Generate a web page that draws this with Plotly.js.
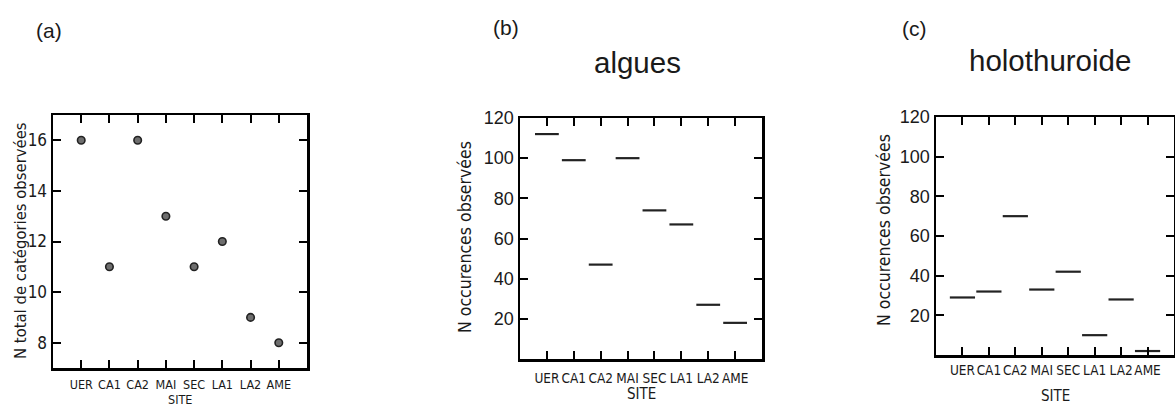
<!DOCTYPE html>
<html>
<head>
<meta charset="utf-8">
<script src="https://cdn.plot.ly/plotly-3.0.1.min.js"></script>
<style>html,body{margin:0;padding:0;background:#fff;}#chart{width:1175px;height:407px;}</style>
</head>
<body>
<div id="chart"></div>
<script>
// ---- data ----
const sites = ["UER", "CA1", "CA2", "MAI", "SEC", "LA1", "LA2", "AME"];
const totalCategories = [16, 11, 16, 13, 11, 12, 9, 8];
const alguesOcc = [112, 99, 47, 100, 74, 67, 27, 18];
const holoOcc = [29, 32, 70, 33, 42, 10, 28, 2];
const yTicksA = [8, 10, 12, 14, 16];
const yTicksBC = [20, 40, 60, 80, 100, 120];
const panelLabels = ["(a)", "(b)", "(c)"];
const panelTitles = ["algues", "holothuroide"];
const yTitleA = "N total de catégories observées";
const yTitleBC = "N occurences observées";
const xTitle = "SITE";

// ---- layout helpers ----
const W = 1175, H = 407;
const px = x => x / W;
const py = y => (H - y) / H;
const NARROW = '"DejaVu Sans Condensed", "Liberation Sans Narrow", "Liberation Sans", sans-serif';
const SANS = '"Liberation Sans", Arial, sans-serif';
const INK = '#1a1a1a';

function xaxis(l, r, fs, anchor, standoff) {
  return {
    domain: [px(l), px(r)], anchor: anchor, type: 'category', range: [-1, 8],
    showline: true, linecolor: '#000', linewidth: 2.5, mirror: 'ticks',
    ticks: 'inside', ticklen: 8, tickwidth: 2, tickcolor: '#000', tickangle: 0,
    ticklabelstandoff: standoff,
    showgrid: false, zeroline: false, fixedrange: true,
    tickfont: {family: NARROW, size: fs, color: INK}
  };
}
function yaxis(t, b, range, tv, font, anchor) {
  return {
    domain: [py(b), py(t)], anchor: anchor, range: range, tickvals: tv,
    showline: true, linecolor: '#000', linewidth: 2.5, mirror: 'ticks',
    ticks: 'inside', ticklen: 8, tickwidth: 2, tickcolor: '#000',
    showgrid: false, zeroline: false, fixedrange: true,
    tickfont: font
  };
}

const traces = [
  {x: sites, y: totalCategories, xaxis: 'x', yaxis: 'y', type: 'scatter', mode: 'markers',
   marker: {symbol: 'circle', size: 7.5, color: '#6e6e6e', line: {color: '#222', width: 1.6}}},
  {x: sites, y: alguesOcc, xaxis: 'x2', yaxis: 'y2', type: 'scatter', mode: 'markers',
   marker: {symbol: 'line-ew', size: 17, line: {color: '#222', width: 2.2}}},
  {x: sites, y: holoOcc, xaxis: 'x3', yaxis: 'y3', type: 'scatter', mode: 'markers',
   marker: {symbol: 'line-ew', size: 18, line: {color: '#222', width: 2.2}}}
];

function ann(text, x, y, size, family, angle) {
  return {text: text, x: px(x), y: py(y), xref: 'paper', yref: 'paper',
          xanchor: 'center', yanchor: 'middle', showarrow: false,
          textangle: angle || 0, font: {family: family, size: size, color: INK}};
}

const layout = {
  width: W, height: H, margin: {l: 0, r: 0, t: 0, b: 0},
  paper_bgcolor: '#fff', plot_bgcolor: '#fff', showlegend: false,
  xaxis: xaxis(53, 307, 12.5, 'y', 3),
  yaxis: yaxis(115, 368, [7, 17], yTicksA, {family: NARROW, size: 17, color: INK}, 'x'),
  xaxis2: xaxis(520, 762, 13.5, 'y2', 5),
  yaxis2: yaxis(118, 359, [0, 120], yTicksBC, {family: SANS, size: 18, color: INK}, 'x2'),
  xaxis3: xaxis(936, 1174, 13.5, 'y3', 1),
  yaxis3: yaxis(117, 355, [0, 120], yTicksBC, {family: SANS, size: 18, color: INK}, 'x3'),
  annotations: [
    ann(panelLabels[0], 49, 30, 21, SANS),
    ann(panelLabels[1], 506, 27, 21, SANS),
    ann(panelLabels[2], 914, 28, 21, SANS),
    ann(panelTitles[0], 637, 62, 29.5, SANS),
    ann(panelTitles[1], 1050, 60, 29.5, SANS),
    ann(yTitleA, 20, 241, 16.5, NARROW, -90),
    ann(yTitleBC, 465, 237, 17.5, NARROW, -90),
    ann(yTitleBC, 884, 230, 17.5, NARROW, -90),
    ann(xTitle, 180, 399, 12.5, NARROW),
    ann(xTitle, 641, 394, 15, NARROW),
    ann(xTitle, 1055, 396, 15, NARROW)
  ]
};

Plotly.newPlot('chart', traces, layout, {staticPlot: true, displayModeBar: false});
</script>
</body>
</html>
